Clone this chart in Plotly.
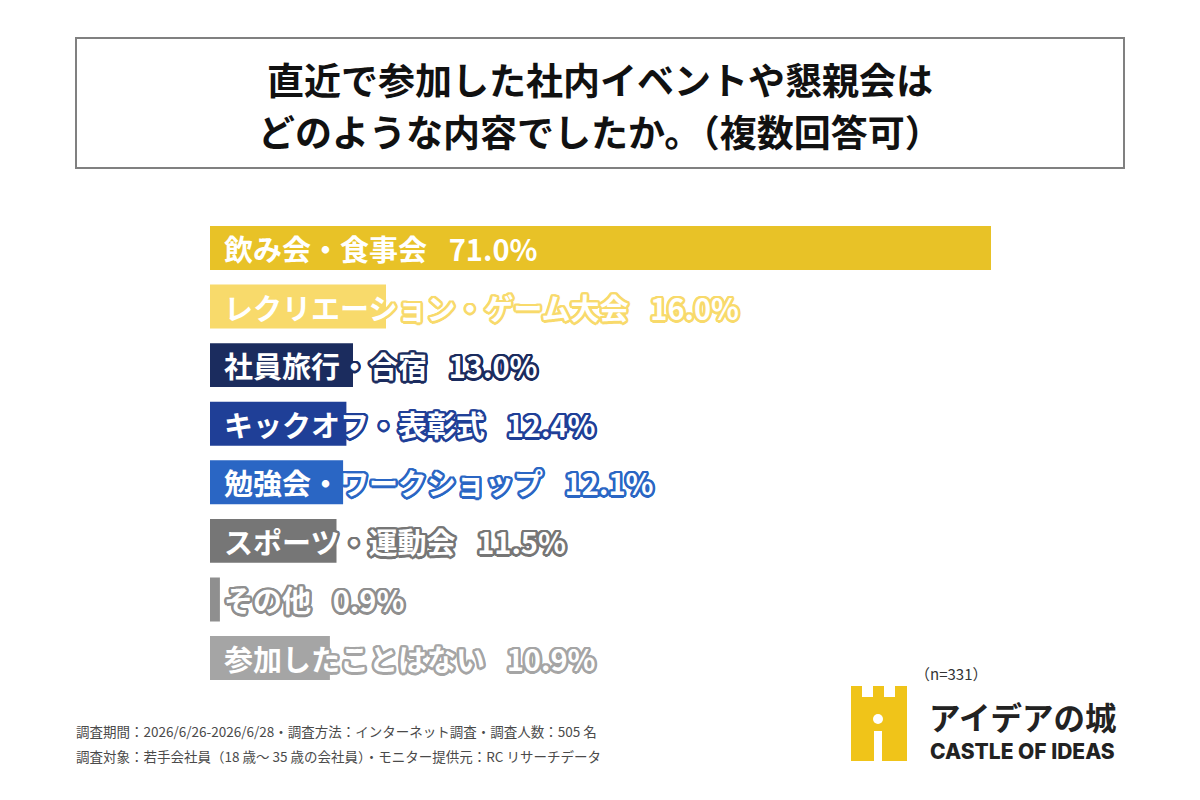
import math
import plotly.graph_objects as go

categories = ["飲み会・食事会", "レクリエーション・ゲーム大会", "社員旅行・合宿", "キックオフ・表彰式",
              "勉強会・ワークショップ", "スポーツ・運動会", "その他", "参加したことはない"]
values = [71.0, 16.0, 13.0, 12.4, 12.1, 11.5, 0.9, 10.9]
colors = ["#E8C227", "#F8DA6B", "#1B2C5E", "#1F3F97", "#2A66C4", "#767676", "#8F8F8F", "#A5A5A5"]

title_lines = ["直近で参加した社内イベントや懇親会は", "どのような内容でしたか。（複数回答可）"]
footer_lines = ["調査期間：2026/6/26-2026/6/28・調査方法：インターネット調査・調査人数：505 名",
                "調査対象：若手会社員（18 歳～ 35 歳の会社員）・モニター提供元：RC リサーチデータ"]
n_text = "（n=331）"

W, H = 1200, 800
JP = "Noto Sans CJK JP"


def px(x):
    return x / W


def py(y):
    return 1 - y / H


def outline(c, r=2.5):
    offs = []
    for k in range(16):
        a = 2 * math.pi * k / 16
        offs.append(f"{r*math.cos(a):.2f}px {r*math.sin(a):.2f}px 0 {c}")
    return ", ".join(offs)


fig = go.Figure()
fig.add_trace(go.Bar(
    x=values, y=categories, orientation="h",
    marker=dict(color=colors, line=dict(width=0)),
    width=0.75, hoverinfo="skip",
))

annotations = []
for cat, v, c in zip(categories, values, colors):
    annotations.append(dict(
        x=0, y=cat, xref="x", yref="y", xanchor="left", yanchor="middle",
        xshift=12, showarrow=False,
        text=f"{cat}\u2002\u2005{v:.1f}%",
        font=dict(family=JP, size=29, color="white", weight="bold", shadow=outline(c, 2.5)),
    ))

# title
for i, line in enumerate(title_lines):
    annotations.append(dict(
        x=0.5, y=py(79 + 52 * i), xref="paper", yref="paper", xanchor="center", yanchor="middle",
        showarrow=False, text=line,
        font=dict(family=JP, size=37, color="#111", weight="bold"),
    ))
# footer
for i, line in enumerate(footer_lines):
    annotations.append(dict(
        x=px(74), y=py(731 + 25 * i), xref="paper", yref="paper", xanchor="left", yanchor="middle",
        showarrow=False, text=line,
        font=dict(family=JP, size=13.5, color="#4a4a4a"),
    ))
# n
annotations.append(dict(
    x=px(913), y=py(673), xref="paper", yref="paper", xanchor="left", yanchor="middle",
    showarrow=False, text=n_text, font=dict(family=JP, size=15, color="#333"),
))
# logo texts
annotations.append(dict(
    x=px(927), y=py(716), xref="paper", yref="paper", xanchor="left", yanchor="middle",
    showarrow=False, text="アイデアの城", font=dict(family=JP, size=31.5, color="#222", weight="bold"),
))
annotations.append(dict(
    x=px(928), y=py(751), xref="paper", yref="paper", xanchor="left", yanchor="middle",
    showarrow=False, text="CASTLE OF IDEAS", font=dict(family="Inter", size=21, color="#222", weight=800),
))

shapes = [
    dict(type="rect", xref="paper", yref="paper", x0=px(76), x1=px(1124), y0=py(38), y1=py(168),
         line=dict(color="#808080", width=2), fillcolor="white", layer="below"),
]
# castle logo
logo_color = "#F0C419"
path = (f"M {px(851)},{py(761)} L {px(851)},{py(686)} L {px(862)},{py(686)} L {px(862)},{py(697)} "
        f"L {px(873)},{py(697)} L {px(873)},{py(686)} L {px(884)},{py(686)} L {px(884)},{py(697)} "
        f"L {px(895)},{py(697)} L {px(895)},{py(686)} L {px(907)},{py(686)} L {px(907)},{py(761)} "
        f"L {px(882)},{py(761)} L {px(882)},{py(731)} L {px(874)},{py(731)} L {px(874)},{py(761)} Z")
shapes.append(dict(type="path", xref="paper", yref="paper", path=path, fillcolor=logo_color,
                   line=dict(width=0)))
shapes.append(dict(type="circle", xref="paper", yref="paper", x0=px(873), x1=px(883), y0=py(714), y1=py(724),
                   fillcolor="white", line=dict(width=0)))

fig.update_layout(
    width=W, height=H, margin=dict(l=0, r=0, t=0, b=0),
    paper_bgcolor="white", plot_bgcolor="rgba(0,0,0,0)",
    showlegend=False, bargap=0.25,
    xaxis=dict(domain=[px(210), 1.0], range=[0, 90], visible=False, fixedrange=True),
    yaxis=dict(domain=[py(687.3), py(218.7)], range=[7.5, -0.5], visible=False,
               categoryorder="array", categoryarray=categories, fixedrange=True),
    annotations=annotations, shapes=shapes,
)

fig.write_html("out.html", config={"displayModeBar": False})
